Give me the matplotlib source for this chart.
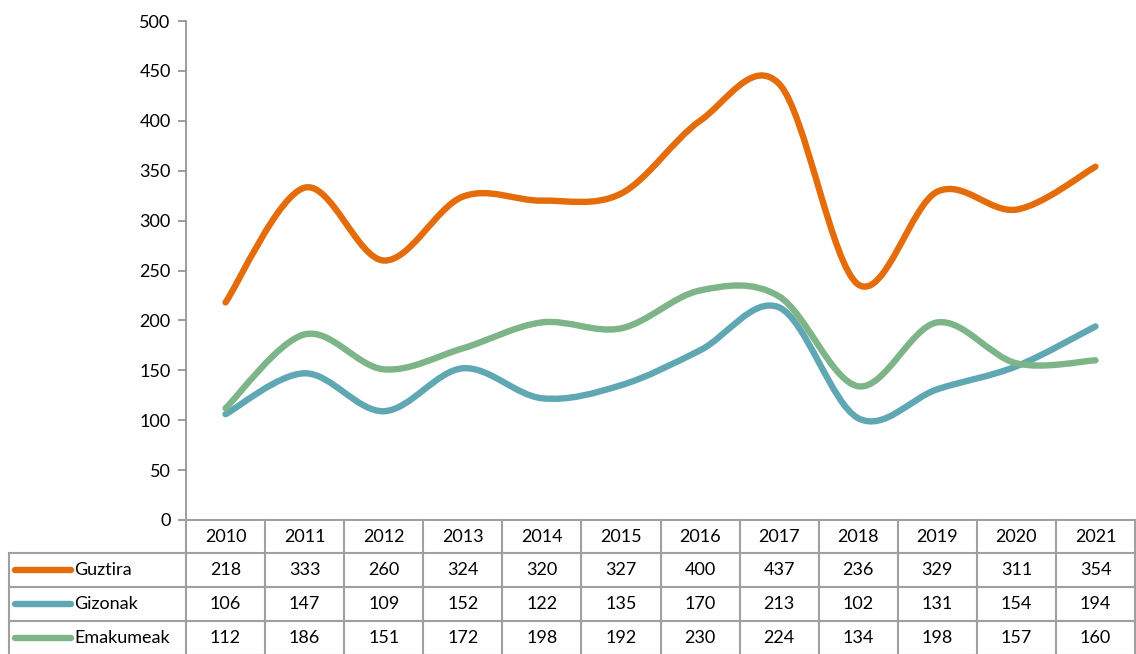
import numpy as np
import matplotlib.pyplot as plt
from matplotlib.path import Path
from matplotlib.patches import PathPatch
from matplotlib.lines import Line2D
import matplotlib.transforms as mtransforms

plt.rcParams['font.family'] = ['Lato', 'DejaVu Sans']

years = ['2010', '2011', '2012', '2013', '2014', '2015', '2016', '2017', '2018', '2019', '2020', '2021']
guztira = [218, 333, 260, 324, 320, 327, 400, 437, 236, 329, 311, 354]
gizonak = [106, 147, 109, 152, 122, 135, 170, 213, 102, 131, 154, 194]
emakumeak = [112, 186, 151, 172, 198, 192, 230, 224, 134, 198, 157, 160]

series_names = ['Guztira', 'Gizonak', 'Emakumeak']
series_values = [guztira, gizonak, emakumeak]
colors = ['#E46C0A', '#5FA8B3', '#7DB488']

W, H = 1136, 654
fig = plt.figure(figsize=(W / 100, H / 100), dpi=100)

# plot area in pixels
left_px, right_px, top_px, bottom_px = 186, 1135, 21, 520
ax = fig.add_axes([left_px / W, 1 - bottom_px / H,
                   (right_px - left_px) / W, (bottom_px - top_px) / H])


def smooth_path(xs, ys):
    """Excel-like smoothed line: cubic bezier through every point."""
    pts = np.column_stack([xs, ys]).astype(float)
    n = len(pts)
    verts = [pts[0]]
    codes = [Path.MOVETO]
    for i in range(n - 1):
        p0 = pts[i - 1] if i > 0 else pts[i]
        p1 = pts[i]
        p2 = pts[i + 1]
        p3 = pts[i + 2] if i + 2 < n else pts[i + 1]
        c1 = p1 + (p2 - p0) / 6.0
        c2 = p2 - (p3 - p1) / 6.0
        verts += [c1, c2, p2]
        codes += [Path.CURVE4] * 3
    return Path(verts, codes)


x = np.arange(len(years))
for vals, c in zip(series_values, colors):
    patch = PathPatch(smooth_path(x, vals), facecolor='none', edgecolor=c,
                      lw=4.6, capstyle='round', joinstyle='round', zorder=3)
    ax.add_patch(patch)

ax.set_xlim(-0.5, len(years) - 0.5)
ax.set_ylim(0, 500)
ax.set_yticks(range(0, 501, 50))
ax.set_xticks([])
for s in ['top', 'right']:
    ax.spines[s].set_visible(False)
grey = '#8C8C8C'
ax.spines['left'].set_color(grey)
ax.spines['bottom'].set_color(grey)
ax.spines['left'].set_linewidth(1.2)
ax.spines['bottom'].set_linewidth(1.2)
ax.tick_params(axis='y', direction='out', length=6, width=1.2, color=grey,
               labelsize=13, pad=5, labelcolor='black')

# data table below the plot
tline = '#A0A0A0'
blend = mtransforms.blended_transform_factory(ax.transData, fig.transFigure)
fy = lambda py: 1 - py / H
fx = lambda px: px / W
row_y = [520, 553, 587, 621, 655]
ncol = len(years)

# vertical lines between columns
for i in range(ncol + 1):
    fig.add_artist(Line2D([i - 0.5, i - 0.5], [fy(row_y[0]), fy(row_y[-1])],
                          transform=blend, color=tline, lw=1.5))
# horizontal lines
for yy in row_y[1:]:
    fig.add_artist(Line2D([fx(9), fx(right_px)], [fy(yy), fy(yy)],
                          transform=fig.transFigure, color=tline, lw=1.5))
fig.add_artist(Line2D([fx(9), fx(9)], [fy(row_y[1]), fy(row_y[-1])],
                      transform=fig.transFigure, color=tline, lw=1.5))

# header years
for i, yr in enumerate(years):
    fig.text(i, fy((row_y[0] + row_y[1]) / 2), yr, transform=blend,
             ha='center', va='center', fontsize=13)

# rows
for r, (name, vals, c) in enumerate(zip(series_names, series_values, colors)):
    yc = fy((row_y[r + 1] + row_y[r + 2]) / 2)
    fig.add_artist(Line2D([fx(15), fx(71)], [yc, yc], transform=fig.transFigure,
                          color=c, lw=4.6, solid_capstyle='round'))
    fig.text(fx(74), yc, name, ha='left', va='center', fontsize=13)
    for i, v in enumerate(vals):
        fig.text(i, yc, str(v), transform=blend, ha='center', va='center',
                 fontsize=13)

fig.savefig('out.png', dpi=100)
